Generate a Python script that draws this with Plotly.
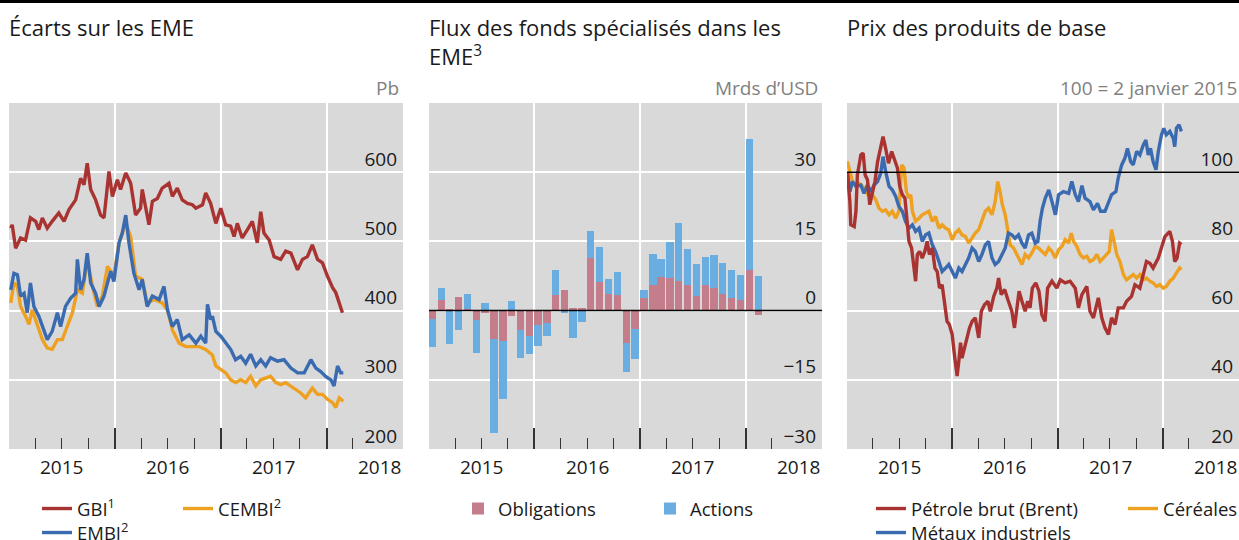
import plotly.graph_objects as go

# ---------------- Panel 1 : Écarts sur les EME (pb) ----------------
gbi_dates = ["2015-01-07","2015-01-12","2015-01-24","2015-02-10","2015-02-27","2015-03-16","2015-04-03","2015-04-14",
             "2015-04-26","2015-05-13","2015-05-30","2015-06-22","2015-07-10","2015-07-27","2015-08-19","2015-09-05",
             "2015-09-17","2015-09-28","2015-10-10","2015-10-27","2015-11-13","2015-11-25","2015-12-12","2015-12-24",
             "2016-01-10","2016-01-21","2016-02-08","2016-02-25","2016-03-13","2016-03-30","2016-04-05","2016-04-17",
             "2016-04-28","2016-05-10","2016-05-27","2016-06-13","2016-07-06","2016-07-18","2016-08-04","2016-08-21",
             "2016-09-08","2016-09-25","2016-10-07","2016-10-30","2016-11-10","2016-11-27","2016-12-15","2017-01-01",
             "2017-01-18","2017-02-04","2017-02-16","2017-02-27","2017-03-16","2017-04-03","2017-04-20","2017-05-07",
             "2017-05-19","2017-05-30","2017-06-17","2017-07-04","2017-07-27","2017-08-13","2017-08-31","2017-09-23",
             "2017-10-10","2017-10-27","2017-11-13","2017-12-01","2017-12-18","2018-01-04","2018-01-22","2018-02-02",
             "2018-02-14","2018-02-25"]
gbi = [519, 524, 490, 505, 502, 534, 529, 517, 534, 519, 529, 541, 529, 546, 560, 591,
       582, 613, 575, 560, 538, 534, 601, 565, 589, 575, 599, 584, 538, 548, 575, 546,
       524, 558, 562, 577, 584, 565, 577, 560, 555, 553, 548, 553, 570, 555, 526, 548,
       524, 522, 507, 526, 505, 517, 529, 498, 543, 512, 502, 478, 474, 486, 483, 459,
       474, 478, 495, 474, 469, 450, 433, 426, 411, 397]

embi_dates = ["2015-01-07","2015-01-18","2015-01-30","2015-02-10","2015-02-22","2015-03-05","2015-03-16","2015-03-28",
              "2015-04-14","2015-05-01","2015-05-13","2015-05-30","2015-06-17","2015-06-28","2015-07-15","2015-08-02",
              "2015-08-19","2015-08-25","2015-09-05","2015-09-17","2015-09-28","2015-10-10","2015-10-27","2015-11-08",
              "2015-11-25","2015-12-07","2015-12-18","2015-12-29","2016-01-16","2016-01-27","2016-02-08","2016-02-19",
              "2016-03-07","2016-03-25","2016-04-05","2016-04-22","2016-05-10","2016-06-02","2016-06-19","2016-07-01",
              "2016-07-18","2016-08-04","2016-08-21","2016-09-14","2016-10-07","2016-10-24","2016-11-10","2016-11-16",
              "2016-11-27","2016-12-03","2016-12-15","2017-01-01","2017-01-18","2017-02-04","2017-02-21","2017-03-11",
              "2017-03-28","2017-04-14","2017-05-02","2017-05-19","2017-06-05","2017-06-22","2017-07-15","2017-08-07",
              "2017-08-31","2017-09-23","2017-10-16","2017-11-08","2017-11-25","2017-12-12","2017-12-29","2018-01-16",
              "2018-01-27","2018-02-08","2018-02-19","2018-02-28"]
embi = [430, 454, 452, 421, 425, 397, 440, 406, 392, 370, 358, 370, 397, 377, 406, 418,
        425, 474, 430, 445, 483, 440, 425, 406, 421, 440, 457, 442, 498, 512, 538, 498,
        454, 430, 445, 406, 421, 416, 435, 401, 377, 387, 358, 365, 353, 363, 353, 409,
        387, 392, 370, 363, 353, 344, 329, 334, 324, 337, 320, 329, 320, 332, 327, 329,
        317, 310, 310, 329, 317, 312, 305, 300, 291, 320, 310, 310]

cembi_dates = ["2015-01-07","2015-01-18","2015-01-30","2015-02-10","2015-02-27","2015-03-11","2015-03-22","2015-04-09",
               "2015-04-26","2015-05-13","2015-05-30","2015-06-17","2015-07-04","2015-07-21","2015-08-08","2015-08-25",
               "2015-09-11","2015-09-28","2015-10-16","2015-11-02","2015-11-19","2015-12-07","2015-12-29","2016-01-16",
               "2016-02-08","2016-02-25","2016-03-13","2016-04-05","2016-04-22","2016-05-16","2016-06-13","2016-07-01",
               "2016-07-18","2016-08-10","2016-09-02","2016-09-25","2016-10-18","2016-11-10","2016-11-27","2016-12-03",
               "2016-12-15","2017-01-01","2017-01-18","2017-02-04","2017-02-21","2017-03-11","2017-03-28","2017-04-14",
               "2017-05-02","2017-05-19","2017-06-05","2017-06-22","2017-07-10","2017-07-27","2017-08-13","2017-08-31",
               "2017-09-17","2017-10-04","2017-10-21","2017-11-13","2017-12-01","2017-12-18","2018-01-04","2018-01-22",
               "2018-02-02","2018-02-14","2018-02-28"]
cembi = [411, 440, 435, 406, 392, 380, 401, 377, 358, 346, 344, 358, 358, 377, 397, 430,
         425, 474, 435, 406, 421, 464, 450, 498, 526, 507, 450, 445, 411, 416, 411, 401,
         372, 353, 348, 348, 348, 344, 339, 336, 320, 315, 310, 300, 296, 300, 296, 305,
         291, 300, 303, 305, 296, 293, 296, 291, 286, 281, 274, 288, 279, 279, 272, 267,
         260, 274, 269]

# ---------------- Panel 2 : Flux des fonds (Mrds d'USD) ----------------
flow_months = ["2015-01-01","2015-02-01","2015-03-01","2015-04-01","2015-05-01","2015-06-01",
               "2015-07-01","2015-08-01","2015-09-01","2015-10-01","2015-11-01","2015-12-01",
               "2016-01-01","2016-02-01","2016-03-01","2016-04-01","2016-05-01","2016-06-01",
               "2016-07-01","2016-08-01","2016-09-01","2016-10-01","2016-11-01","2016-12-01",
               "2017-01-01","2017-02-01","2017-03-01","2017-04-01","2017-05-01","2017-06-01",
               "2017-07-01","2017-08-01","2017-09-01","2017-10-01","2017-11-01","2017-12-01",
               "2018-01-01","2018-02-01"]
obligations = [-1.9, 2.4, 0.4, 2.9, 0.4, -2.1, -0.6, -6.2, -6.5, -1.1, -4.1, -5.4,
               -3.2, -2.7, 3.4, 4.5, 0.6, 0.6, 11.5, 6.3, 3.7, 3.3, -7.0, -3.9,
               2.8, 5.5, 7.2, 7.0, 6.5, 5.6, 3.2, 5.5, 5.0, 3.5, 2.8, 2.2,
               8.8, -1.0]
actions = [-6.0, 2.6, -7.3, -4.3, 3.3, -7.0, 1.65, -20.3, -12.7, 2.0, -6.2, -4.1,
           -4.5, -2.9, 5.3, -0.6, -6.0, -2.5, 5.7, 7.5, 3.2, 5.0, -6.3, -6.5,
           1.65, 6.7, 4.0, 7.9, 12.5, 7.7, 7.0, 6.1, 7.0, 6.9, 6.1, 5.6,
           28.5, 7.6]

# ---------------- Panel 3 : Prix des produits de base (100 = 2 janvier 2015) ----------------
oil_dates = ["2015-01-02","2015-01-11","2015-01-14","2015-01-26","2015-02-01","2015-02-06","2015-02-18","2015-02-26",
             "2015-03-05","2015-03-13","2015-03-21","2015-03-30","2015-04-08","2015-04-17","2015-04-28","2015-05-06",
             "2015-05-15","2015-05-25","2015-06-05","2015-06-17","2015-06-25","2015-07-03","2015-07-12","2015-07-21",
             "2015-07-29","2015-08-04","2015-08-13","2015-08-21","2015-08-27","2015-09-02","2015-09-10","2015-09-19",
             "2015-09-28","2015-10-06","2015-10-14","2015-10-24","2015-11-02","2015-11-10","2015-11-18","2015-11-27",
             "2015-12-06","2015-12-14","2015-12-22","2016-01-01","2016-01-10","2016-01-18","2016-01-24","2016-01-30",
             "2016-02-04","2016-02-13","2016-02-21","2016-03-01","2016-03-10","2016-03-21","2016-04-02","2016-04-11",
             "2016-04-22","2016-05-04","2016-05-12","2016-05-24","2016-06-04","2016-06-10","2016-06-19","2016-07-01",
             "2016-07-12","2016-07-26","2016-08-04","2016-08-12","2016-08-20","2016-08-30","2016-09-10","2016-09-19",
             "2016-09-27","2016-10-05","2016-10-17","2016-10-28","2016-11-07","2016-11-18","2016-11-27","2016-12-12",
             "2016-12-29","2017-01-10","2017-01-27","2017-02-13","2017-03-03","2017-03-14","2017-03-26","2017-04-12",
             "2017-04-23","2017-05-05","2017-05-22","2017-06-03","2017-06-14","2017-06-26","2017-07-07","2017-07-19",
             "2017-07-30","2017-08-17","2017-08-28","2017-09-14","2017-09-26","2017-10-13","2017-10-25","2017-11-05",
             "2017-11-17","2017-11-28","2017-12-16","2017-12-27","2018-01-08","2018-01-25","2018-02-03","2018-02-11",
             "2018-02-19","2018-02-28","2018-03-06"]
oil = [100, 91.5, 84.8, 84.3, 88.7, 99.2, 105, 105.5,
       99.2, 97.8, 90.6, 94.4, 97.3, 103, 106.9, 110.3,
       106.9, 102.6, 106, 103, 101.2, 95.9, 93.5, 92.5,
       84.8, 80, 78.1, 72.3, 68.5, 76.2, 77.1, 75.2,
       77.1, 80, 76.2, 78.1, 72.3, 71.3, 66.5, 67.5,
       62.7, 56.9, 56, 53.1, 46.3, 41.1, 45.4, 50.7,
       46.3, 49.2, 51.2, 55, 56.9, 57.9, 52.1, 59.8,
       61.7, 62.7, 59.8, 64.1, 66.5, 69.4, 64.6, 66.1,
       63.2, 59.8, 55, 60.8, 65.6, 62.7, 59.8, 62.7,
       60.8, 66.5, 68, 65.6, 58.8, 56.9, 66.5, 68.5,
       66.5, 68.9, 68, 68.5, 66.5, 60.8, 64.6, 67,
       59.8, 57.9, 63.7, 57.9, 55, 53.1, 57.9, 56,
       60.8, 60.8, 62.7, 64.1, 67.5, 66.5, 70.4, 74.2,
       73.7, 72.3, 75.2, 78.6, 81.4, 82.9, 80, 74.2,
       75.2, 79.5, 79.1]

metals_dates = ["2015-01-02","2015-01-11","2015-01-20","2015-02-01","2015-02-18","2015-03-01","2015-03-13","2015-03-25",
                "2015-04-05","2015-04-17","2015-04-28","2015-05-06","2015-05-15","2015-05-27","2015-06-07","2015-06-19",
                "2015-06-30","2015-07-12","2015-07-23","2015-08-04","2015-08-16","2015-08-27","2015-09-08","2015-09-19",
                "2015-10-01","2015-10-12","2015-10-24","2015-11-04","2015-11-16","2015-11-27","2015-12-09","2015-12-20",
                "2016-01-01","2016-01-12","2016-01-24","2016-02-04","2016-02-16","2016-02-27","2016-03-10","2016-03-21",
                "2016-04-02","2016-04-13","2016-04-25","2016-05-06","2016-05-18","2016-05-29","2016-06-10","2016-06-21",
                "2016-07-03","2016-07-14","2016-07-26","2016-08-06","2016-08-18","2016-08-30","2016-09-10","2016-09-22",
                "2016-10-03","2016-10-15","2016-10-24","2016-11-01","2016-11-09","2016-11-19","2016-12-01","2016-12-12",
                "2016-12-24","2017-01-04","2017-01-21","2017-02-08","2017-02-19","2017-03-03","2017-03-14","2017-03-26",
                "2017-04-06","2017-04-23","2017-05-05","2017-05-19","2017-05-30","2017-06-14","2017-06-26","2017-07-07",
                "2017-07-22","2017-07-30","2017-08-11","2017-08-22","2017-08-31","2017-09-11","2017-09-20","2017-10-02",
                "2017-10-13","2017-10-25","2017-11-03","2017-11-11","2017-11-19","2017-11-28","2017-12-08","2017-12-16",
                "2017-12-27","2018-01-04","2018-01-13","2018-01-25","2018-02-06","2018-02-11","2018-02-17","2018-02-26",
                "2018-03-06"]
metals = [100, 94.4, 97.3, 95.9, 96.3, 93.9, 96.3, 94.4,
          96.3, 97.3, 99.7, 104.5, 100.2, 95.9, 94.9, 93,
          90.1, 88.7, 85.8, 83.8, 84.8, 82.9, 83.8, 80,
          81.9, 82.4, 79, 77.1, 74.2, 71.3, 72.3, 73.3,
          71.3, 69.4, 72.3, 71.3, 73.3, 75.2, 78.1, 77.1,
          74.2, 76.2, 79, 80, 75.2, 73.3, 74.2, 76.2,
          78.1, 82.4, 81.9, 80.9, 81.9, 79.5, 78.1, 81.9,
          82.4, 79.5, 80, 85.8, 89.6, 92.5, 94.9, 91.5,
          87.7, 93.5, 94.4, 93.9, 97.3, 93.5, 91.5, 96.1,
          92.5, 91.5, 89.1, 91, 88.7, 88.7, 91.5, 93.5,
          94.4, 98.3, 102.1, 104, 106.9, 103.1, 102.1, 106,
          105, 107.9, 109.3, 105, 106.9, 103.1, 100.7, 106,
          110.8, 112.7, 110.8, 111.8, 109.8, 107.4, 112.7, 113.7,
          111.8]

cereals_dates = ["2015-01-02","2015-01-11","2015-01-20","2015-02-01","2015-02-12","2015-02-24","2015-03-07","2015-03-19",
                 "2015-03-30","2015-04-11","2015-04-22","2015-05-04","2015-05-15","2015-05-27","2015-06-07","2015-06-19",
                 "2015-06-30","2015-07-10","2015-07-18","2015-07-26","2015-08-04","2015-08-10","2015-08-16","2015-08-27",
                 "2015-09-08","2015-09-19","2015-10-01","2015-10-12","2015-10-24","2015-11-04","2015-11-16","2015-11-27",
                 "2015-12-09","2015-12-20","2016-01-01","2016-01-12","2016-01-24","2016-02-04","2016-02-16","2016-02-27",
                 "2016-03-10","2016-03-21","2016-04-02","2016-04-13","2016-04-25","2016-05-06","2016-05-18","2016-05-29",
                 "2016-06-07","2016-06-15","2016-06-23","2016-07-03","2016-07-12","2016-07-20","2016-08-01","2016-08-12",
                 "2016-08-24","2016-08-30","2016-09-10","2016-09-22","2016-10-03","2016-10-15","2016-10-26","2016-11-07",
                 "2016-11-19","2016-12-01","2016-12-12","2016-12-24","2017-01-04","2017-01-16","2017-01-27","2017-02-08",
                 "2017-02-17","2017-02-25","2017-03-08","2017-03-20","2017-03-31","2017-04-12","2017-04-23","2017-05-05",
                 "2017-05-17","2017-05-28","2017-06-09","2017-06-20","2017-06-29","2017-07-07","2017-07-15","2017-07-25",
                 "2017-08-05","2017-08-17","2017-08-28","2017-09-09","2017-09-20","2017-10-02","2017-10-13","2017-10-25",
                 "2017-11-05","2017-11-17","2017-11-28","2017-12-10","2017-12-21","2018-01-02","2018-01-13","2018-01-25",
                 "2018-02-06","2018-02-17","2018-02-28","2018-03-06"]
cereals = [103.1, 100, 97.3, 95.9, 96.8, 95.9, 94.4, 93,
           93.5, 92, 89.6, 88.7, 89.1, 87.7, 88.7, 86.7,
           88.7, 102.1, 101.2, 94.4, 92.5, 93.5, 88.7, 85.8,
           86.7, 87.7, 88.2, 88.7, 85.8, 87.2, 83.8, 84.8,
           83.8, 83.4, 80.5, 82.4, 83.4, 81.9, 81.4, 79.5,
           81, 82.4, 83.4, 85.8, 88.7, 89.6, 87.7, 91.5,
           97.3, 94.4, 90.6, 87.7, 82.9, 79, 78.1, 76.2,
           74.2, 73.3, 76.2, 75.2, 76.6, 78.6, 78.1, 77.1,
           76.2, 78.1, 77.1, 75.2, 77.6, 78.6, 80.5, 79.5,
           82.4, 80, 78.6, 76.2, 75.2, 75.7, 74.2, 74.7,
           76.2, 74.2, 75.2, 76.2, 77.1, 83.4, 80, 76.2,
           74.2, 70.4, 68.9, 69.8, 70.4, 69.4, 70.4, 68.9,
           69.4, 68.5, 68, 67, 67.5, 66.5, 67, 68.5,
           69.4, 70.9, 72.3, 71.8]

# year labels (centred on each year)
year_labels = ["2015", "2016", "2017", "2018"]
year_mid = ["2015-07-02", "2016-07-02", "2017-07-02", "2018-07-02"]

# ---------------- styling ----------------
FONT = "Open Sans"
RED, BLUE, ORANGE = "#A93331", "#3A6BB0", "#EEA021"
PINK, LBLUE = "#C47E8B", "#6AAEE1"
TXT = "#1a1a1a"
W, H = 1239, 540

def px(x):
    return x / W

def py(y):
    return 1 - y / H

YDOM = [py(449), py(103)]
XDOMS = [[px(9), px(403)], [px(429), px(822)], [px(847), px(1239)]]
XRANGE = ["2015-01-01", "2018-09-22"]

fig = go.Figure()

lw = 3.4
fig.add_trace(go.Scatter(x=gbi_dates, y=gbi, name="GBI<sup>1</sup>", mode="lines",
                         line=dict(color=RED, width=lw), xaxis="x", yaxis="y", legend="legend"))
fig.add_trace(go.Scatter(x=cembi_dates, y=cembi, name="CEMBI<sup>2</sup>", mode="lines",
                         line=dict(color=ORANGE, width=lw), xaxis="x", yaxis="y", legend="legend2"))
fig.add_trace(go.Scatter(x=embi_dates, y=embi, name="EMBI<sup>2</sup>", mode="lines",
                         line=dict(color=BLUE, width=lw), xaxis="x", yaxis="y", legend="legend7"))

bar_w = 2.2e9  # ms
fig.add_trace(go.Bar(x=flow_months, y=obligations, name="Obligations", marker=dict(color=PINK, line=dict(width=0)),
                     width=bar_w, offset=0, xaxis="x2", yaxis="y2", legend="legend3"))
fig.add_trace(go.Bar(x=flow_months, y=actions, name="Actions", marker=dict(color=LBLUE, line=dict(width=0)),
                     width=bar_w, offset=0, xaxis="x2", yaxis="y2", legend="legend4"))

fig.add_trace(go.Scatter(x=cereals_dates, y=cereals, name="Céréales", mode="lines",
                         line=dict(color=ORANGE, width=lw), xaxis="x3", yaxis="y3", legend="legend6"))
fig.add_trace(go.Scatter(x=metals_dates, y=metals, name="Métaux industriels", mode="lines",
                         line=dict(color=BLUE, width=lw), xaxis="x3", yaxis="y3", legend="legend8"))
fig.add_trace(go.Scatter(x=oil_dates, y=oil, name="Pétrole brut (Brent)", mode="lines",
                         line=dict(color=RED, width=lw), xaxis="x3", yaxis="y3", legend="legend5"))

tickfont = dict(family=FONT, size=19, color=TXT)

def xaxis(i):
    return dict(domain=XDOMS[i], range=XRANGE, type="date", anchor="y" if i == 0 else f"y{i+1}",
                dtick="M12", tick0="2015-01-01", showticklabels=False,
                ticks="inside", ticklen=21, tickwidth=1.5, tickcolor="#333333",
                showgrid=True, gridcolor="white", gridwidth=1.5, zeroline=False, showline=False,
                minor=dict(dtick="M3", tick0="2015-01-01", ticks="inside", ticklen=11, tickwidth=1,
                           tickcolor="#333333", showgrid=False),
                fixedrange=True)

def yaxis(i, rng, vals):
    return dict(domain=YDOM, range=rng, tickvals=vals, anchor="x" if i == 0 else f"x{i+1}",
                side="right", ticklabelposition="inside", ticklabelshift=-13, ticklabelstandoff=3,
                ticks="", showgrid=True, gridcolor="white", gridwidth=1.5, zeroline=False, showline=False,
                tickfont=tickfont, fixedrange=True)

def legend(x, y):
    return dict(x=px(x), y=py(y), xanchor="left", yanchor="top", orientation="v",
                bgcolor="rgba(0,0,0,0)", borderwidth=0, font=dict(family=FONT, size=18.5, color=TXT),
                itemwidth=30, tracegroupgap=0)

ROW1, ROW2 = 490, 514
fig.update_layout(
    width=W, height=H, margin=dict(l=0, r=0, t=0, b=0, autoexpand=False),
    paper_bgcolor="white", plot_bgcolor="#D9D9D9",
    barmode="relative", bargap=0,
    font=dict(family=FONT, color=TXT),
    xaxis=xaxis(0), xaxis2=xaxis(1), xaxis3=xaxis(2),
    yaxis=yaxis(0, [200, 700], [200, 300, 400, 500, 600]),
    yaxis2=yaxis(1, [-30, 45], [-30, -15, 0, 15, 30]),
    yaxis3=yaxis(2, [20, 120], [20, 40, 60, 80, 100]),
    legend=legend(37, ROW1), legend2=legend(178, ROW1), legend7=legend(37, ROW2),
    legend3=legend(458, ROW1), legend4=legend(650, ROW1),
    legend5=legend(871, ROW1), legend6=legend(1123, ROW1), legend8=legend(871, ROW2),
    showlegend=True,
)

# header rule
fig.add_shape(type="rect", xref="paper", yref="paper", x0=0, x1=1, y0=py(3), y1=1,
              fillcolor="black", line=dict(width=0), layer="above")
# reference lines
fig.add_shape(type="line", xref="x2 domain", yref="y2", x0=0, x1=1, y0=0, y1=0,
              line=dict(color="black", width=1.5), layer="above")
fig.add_shape(type="line", xref="x3 domain", yref="y3", x0=0, x1=1, y0=100, y1=100,
              line=dict(color="black", width=1.5), layer="above")

# year labels under each panel, centred on the year
for xr in ("x", "x2", "x3"):
    for lab, mid in zip(year_labels, year_mid):
        fig.add_annotation(text=lab, xref=xr, yref="paper", x=mid, y=py(467), xanchor="center",
                           yanchor="middle", showarrow=False, font=tickfont)

tfont = dict(family=FONT, size=22, color=TXT)
ufont = dict(family=FONT, size=19, color="#808080")
def ann(text, x, y, font, xanchor="left"):
    fig.add_annotation(text=text, xref="paper", yref="paper", x=px(x), y=py(y),
                       xanchor=xanchor, yanchor="middle", showarrow=False, font=font)

ann("Écarts sur les EME", 7, 27, tfont)
ann("Flux des fonds spécialisés dans les", 427, 27, tfont)
ann("EME<sup>3</sup>", 427, 55, tfont)
ann("Prix des produits de base", 845, 27, tfont)
ann("Pb", 401, 88, ufont, "right")
ann("Mrds d’USD", 820, 88, ufont, "right")
ann("100 = 2 janvier 2015", 1239, 88, ufont, "right")

fig.write_html("out.html", config={"displayModeBar": False},
               post_script="document.body.style.margin='0';")
